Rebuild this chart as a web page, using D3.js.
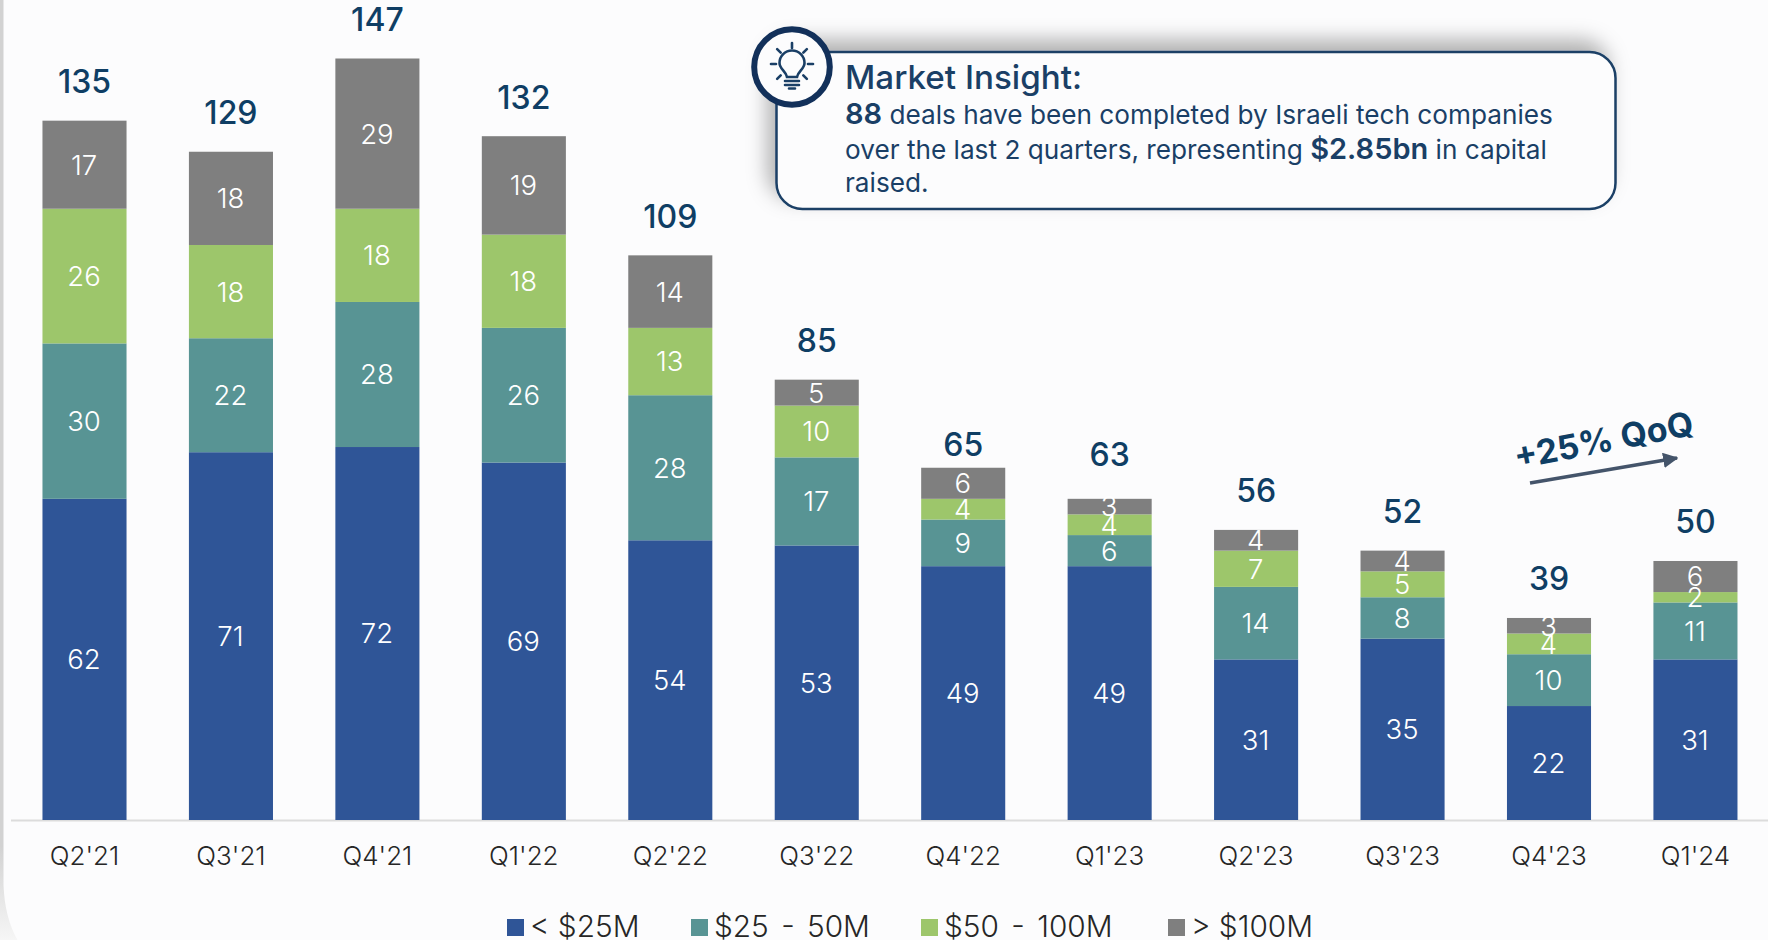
<!DOCTYPE html>
<html><head><meta charset="utf-8">
<script src="https://cdnjs.cloudflare.com/ajax/libs/d3/7.8.5/d3.min.js"></script>
<style>html,body{margin:0;padding:0;background:#fff;overflow:hidden}svg{display:block}text{font-family:Inter,"Noto Sans",sans-serif}</style>
</head><body><svg id="c" width="1768" height="940"></svg>
<script>
const quarters=["Q2'21","Q3'21","Q4'21","Q1'22","Q2'22","Q3'22","Q4'22","Q1'23","Q2'23","Q3'23","Q4'23","Q1'24"];
const seriesNames=["< $25M","$25 - 50M","$50 - 100M","> $100M"];
const seriesColors=["#2f5597","#589494","#9dc66b","#7f7f7f"];
const under25=[62,71,72,69,54,53,49,49,31,35,22,31];
const from25to50=[30,22,28,26,28,17,9,6,14,8,10,11];
const from50to100=[26,18,18,18,13,10,4,4,7,5,4,2];
const over100=[17,18,29,19,14,5,6,3,4,4,3,6];
const totals=[135,129,147,132,109,85,65,63,56,52,39,50];

const svg=d3.select("#c");
const defs=svg.append("defs");
const f1=defs.append("filter").attr("id","shadow").attr("x","-10%").attr("y","-40%").attr("width","120%").attr("height","180%");
f1.append("feDropShadow").attr("dx",-8).attr("dy",-11).attr("stdDeviation",10).attr("flood-color","#000").attr("flood-opacity",0.3);
const lgd=defs.append("linearGradient").attr("id","edge").attr("x1",0).attr("x2",0).attr("y1",0).attr("y2",1);
lgd.append("stop").attr("offset","0.9").attr("stop-color","#d2d2d2");
lgd.append("stop").attr("offset","1").attr("stop-color","#f6f6f6");

// card
svg.append("rect").attr("width",1768).attr("height",940).attr("fill","url(#edge)");
svg.append("path").attr("d","M3.5,-10 L3.5,885 Q5,925 24,950 L1790,950 L1790,-10 Z").attr("fill","#fcfcfd");

const baseY=820, unit=761.5/147;
const y=d3.scaleLinear().domain([0,147]).range([baseY,baseY-147*unit]);
const x=d3.scaleBand().domain(quarters).range([84.5-146.45/2,84.5-146.45/2+146.45*12]).paddingInner(0.426).paddingOuter(0.213);

const rows=quarters.map((q,i)=>({q,a:under25[i],b:from25to50[i],c:from50to100[i],d:over100[i]}));
const stack=d3.stack().keys(["a","b","c","d"])(rows);

// axis line + ticks labels
const axis=svg.append("g").attr("transform",`translate(0,${baseY})`).call(d3.axisBottom(x).tickSize(0).tickPadding(27));
axis.select(".domain").remove();
axis.selectAll("text").attr("font-size",26).attr("fill","#262626").attr("font-weight",300).style("font-family","Inter");
svg.append("line").attr("x1",11).attr("x2",1768).attr("y1",baseY+0.5).attr("y2",baseY+0.5).attr("stroke","#dcdcdc").attr("stroke-width",2);

const g=svg.selectAll(".s").data(stack).join("g").attr("class","s").attr("fill",(d,i)=>seriesColors[i]);
g.selectAll("rect").data(d=>d).join("rect")
 .attr("x",d=>x(d.data.q)).attr("width",x.bandwidth())
 .attr("y",d=>y(d[1])).attr("height",d=>y(d[0])-y(d[1]));

stack.forEach(s=>{
 svg.append("g").selectAll("text").data(s).join("text")
  .attr("x",d=>x(d.data.q)+x.bandwidth()/2-0.5).attr("y",d=>(y(d[0])+y(d[1]))/2)
  .attr("dy","0.36em").attr("text-anchor","middle").attr("fill","#fff").attr("font-size",27.5).attr("font-weight",300)
  .text(d=>d[1]-d[0]);
});

svg.append("g").selectAll("text").data(totals).join("text")
 .attr("x",(d,i)=>x(quarters[i])+x.bandwidth()/2).attr("y",d=>y(d)-27.5)
 .attr("text-anchor","middle").attr("fill","#0f3e64").attr("font-size",32).attr("font-weight",500).text(d=>d);

// legend
const legendX=[507,691,921,1168];
const lg=svg.selectAll(".l").data(seriesNames).join("g").attr("class","l").attr("transform",(d,i)=>`translate(${legendX[i]},919)`);
lg.append("rect").attr("width",17).attr("height",17).attr("fill",(d,i)=>seriesColors[i]);
lg.append("text").attr("x",23).attr("y",17.5).attr("font-size",29.8).attr("fill","#262626").attr("font-weight",300)
 .attr("word-spacing",d=>d.includes(" - ")?4:0).text(d=>d);

// callout
svg.append("rect").attr("x",776.5).attr("y",52).attr("width",839).attr("height",157).attr("rx",26).attr("fill","#fcfcfd").attr("stroke","#1a3f66").attr("stroke-width",2.5).attr("filter","url(#shadow)");
svg.append("circle").attr("cx",792).attr("cy",67).attr("r",37.8).attr("fill","#fcfcfd").attr("stroke","#12305a").attr("stroke-width",6);
const ic=svg.append("g").attr("transform","translate(792,64)").attr("fill","none").attr("stroke","#1a3f66").attr("stroke-width",2.6).attr("stroke-linecap","round");
ic.append("path").attr("d","M-5,13 C-6,7 -12.5,5 -12.5,-1 A12.5,12.5 0 1 1 12.5,-1 C12.5,5 6,7 5,13 Z");
ic.append("path").attr("d","M-7,17 H7 M-7,21 H7 M-3,24.5 H3");
[180,225,270,315,0,45,135].forEach(dg=>{const a=dg*Math.PI/180;ic.append("line").attr("x1",Math.cos(a)*16).attr("y1",Math.sin(a)*16).attr("x2",Math.cos(a)*21).attr("y2",Math.sin(a)*21);});

const T="#1a3f66";
svg.append("text").attr("x",845).attr("y",89).attr("font-size",33.2).attr("font-weight",550).attr("fill",T).text("Market Insight:");
const body=[
 [["88",1],[" deals have been completed by Israeli tech companies",0]],
 [["over the last 2 quarters, representing ",0],["$2.85bn",1],[" in capital",0]],
 [["raised.",0]]
];
const lineY=[124,159,192];
body.forEach((l,i)=>{
 const t=svg.append("text").attr("x",845).attr("y",lineY[i]).attr("fill",T).style("white-space","pre");
 l.forEach(p=>t.append("tspan").attr("font-size",p[1]?29:26.2).attr("font-weight",p[1]?600:400).text(p[0]));
});

// annotation
defs.append("marker").attr("id","ah").attr("viewBox","0 0 10 10").attr("refX",9).attr("refY",5).attr("markerWidth",4.4).attr("markerHeight",4.4).attr("orient","auto").attr("markerUnits","strokeWidth")
 .append("path").attr("d","M0,0 L10,5 L0,10 Z").attr("fill","#44546a");
svg.append("line").attr("x1",1530).attr("y1",483).attr("x2",1677).attr("y2",458).attr("stroke","#44546a").attr("stroke-width",3.5).attr("marker-end","url(#ah)");
svg.append("text").attr("transform","translate(1606,452) rotate(-11)").attr("text-anchor","middle").attr("font-size",34).attr("font-weight",700).attr("fill","#0f3e64").text("+25% QoQ");
</script></body></html>
